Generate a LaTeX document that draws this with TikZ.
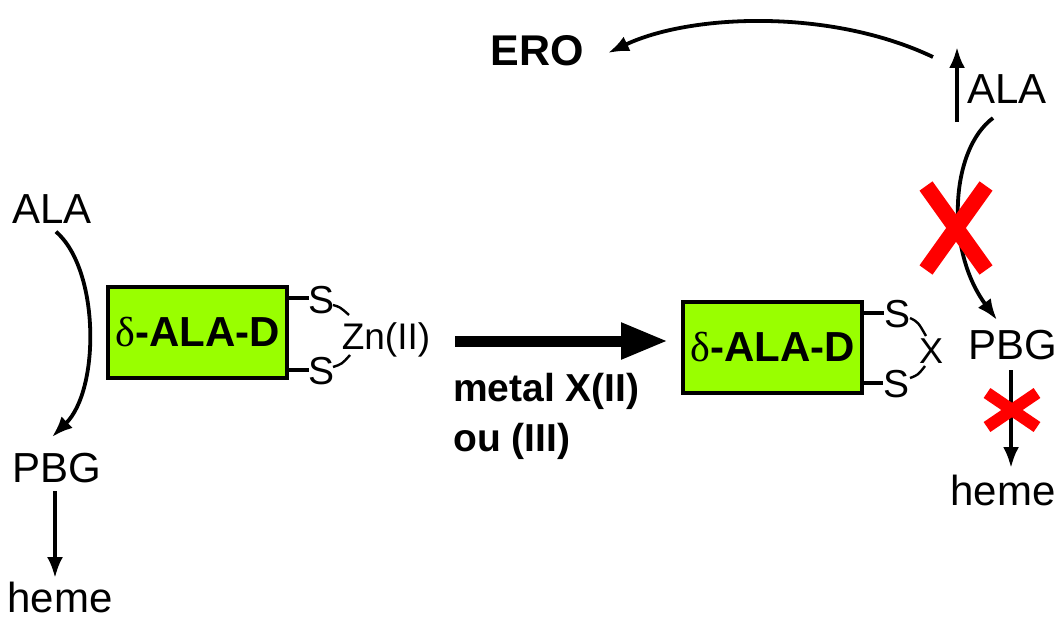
\documentclass[tikz,border=0pt]{standalone}
\usepackage{fontspec}
\setmainfont{Liberation Sans}
\newfontfamily\grk{Liberation Serif}
\usetikzlibrary{arrows.meta,positioning,calc}
\definecolor{enzgreen}{RGB}{153,255,0}
\definecolor{crossred}{RGB}{255,0,0}

\begin{document}
\begin{tikzpicture}[
  x=1pt,y=-1pt,
  lbl/.style={inner sep=0pt,font=\fontsize{42}{44}\selectfont},
  sym/.style={inner sep=0pt,font=\fontsize{39}{41}\selectfont},
  enz/.style={draw,line width=3.5pt,fill=enzgreen,minimum width=179pt,minimum height=91pt,inner sep=0pt,font=\fontsize{42}{44}\selectfont\bfseries},
  bond/.style={line width=3.4pt},
  link/.style={line width=2.4pt},
  thin/.style={line width=3.8pt,-{Latex[length=21pt,width=16pt]}},
  block/.style={line width=16pt,crossred},
  >=Latex
]
\useasboundingbox (0,0) rectangle (1056,623);

% untreated enzyme
\node[lbl] (alaL) at (52,209) {ALA};
\node[lbl] (pbgL) at (57,468) {PBG};
\node[lbl] (hemeL) at (60,597) {heme};
\node[enz] (enzL) at (197.5,332.5) {{\mdseries\grk δ}-ALA-D};
\node[sym] (s1L) at (322,300) {S};
\node[sym] (s2L) at (322,371) {S};
\node[sym,font=\fontsize{37}{39}\selectfont] (zn) at (386,340) {Zn(II)};

\draw[thin] (alaL.south) ++(4,8) .. controls (100,270) and (100,390) .. (52,437);
\draw[thin] (pbgL.south) ++(-2,8) -- (55,578);
\draw[bond] (enzL.east |- 0,298) -- (s1L.west |- 0,298);
\draw[bond] (enzL.east |- 0,370) -- (s2L.west |- 0,370);
\draw[link] (333,305) .. controls (340,307) .. (349,315);
\draw[link] (333,367) .. controls (342,364) .. (350,355);

% metal exchange
\coordinate (mStart) at (455,341);
\coordinate (mEnd) at (668,341);
\draw[line width=11pt,-{Triangle[length=47pt,width=34pt]}] (mStart) -- (mEnd);
\node[font=\fontsize{39}{41}\selectfont\bfseries,align=left,anchor=north west,inner sep=0pt] (metal) at (453,373) {metal X(II)\\[9pt]ou (III)};

% substituted enzyme
\node[enz] (enzR) at (772.5,347.5) {{\mdseries\grk δ}-ALA-D};
\node[sym] (s1R) at (897,314) {S};
\node[sym] (s2R) at (896,384) {S};
\node[sym,font=\fontsize{36}{38}\selectfont] (metX) at (931,351) {X};
\draw[bond] (enzR.east |- 0,313) -- (s1R.west |- 0,313);
\draw[bond] (enzR.east |- 0,383) -- (s2R.west |- 0,383);
\draw[link] (910,318) .. controls (918,322) .. (926,336);
\draw[link] (910,378) .. controls (918,375) .. (925,366);

\node[lbl] (pbgR) at (1013,345) {PBG};
\node[lbl] (hemeR) at (1003,490) {heme};
\node[lbl] (alaR) at (1007,89) {ALA};
\node[font=\fontsize{43}{45}\selectfont\bfseries,inner sep=0pt] (ero) at (537,51) {ERO};

\coordinate (upLow) at (957,122);
\coordinate (upHigh) at (957,47);
\draw[thin] (upLow) -- (upHigh);
\draw[thin] (993,118) .. controls (950,150) and (945,250) .. (997,320);
\draw[thin] (pbgR.south) ++(-2,10) -- (1011,468);
\draw[thin] (933,57) .. controls (830,8) and (690,14) .. (608,53);

% blocked steps
\draw[block] (926,186) -- (986,270);
\draw[block] (986,186) -- (926,270);
\draw[block,line width=12pt] (987,393) -- (1037,427);
\draw[block,line width=12pt] (1037,393) -- (987,427);
\end{tikzpicture}
\end{document}
